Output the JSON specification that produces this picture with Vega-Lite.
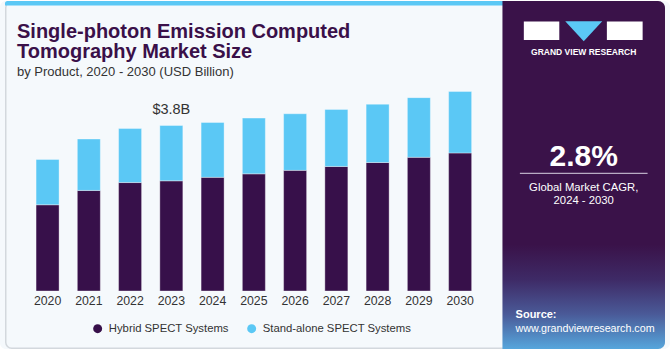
{
  "$schema": "https://vega.github.io/schema/vega-lite/v6.json",
  "width": 670,
  "height": 350,
  "autosize": {"type": "fit", "contains": "padding"},
  "padding": 0,
  "background": "#ffffff",
  "view": {"fill": "#f5f9fc", "stroke": null, "cornerRadius": 6},
  "config": {"axis": {"disable": true}, "font": "Liberation Sans"},
  "title": {
    "text": ["Single-photon Emission Computed", "Tomography Market Size"],
    "subtitle": "by Product, 2020 - 2030 (USD Billion)",
    "anchor": "start",
    "frame": "group",
    "orient": "top",
    "offset": -78,
    "dx": 17,
    "font": "Liberation Sans",
    "fontSize": 20,
    "fontWeight": "bold",
    "color": "#3a1049",
    "lineHeight": 20,
    "subtitleFont": "Liberation Sans",
    "subtitleFontSize": 13,
    "subtitleColor": "#333333",
    "subtitlePadding": 4
  },
  "datasets": {
    "market": [
      {"year": 2020, "segment": "Hybrid SPECT Systems", "value": 1.98},
      {"year": 2020, "segment": "Stand-alone SPECT Systems", "value": 1.04},
      {"year": 2021, "segment": "Hybrid SPECT Systems", "value": 2.31},
      {"year": 2021, "segment": "Stand-alone SPECT Systems", "value": 1.18},
      {"year": 2022, "segment": "Hybrid SPECT Systems", "value": 2.49},
      {"year": 2022, "segment": "Stand-alone SPECT Systems", "value": 1.24},
      {"year": 2023, "segment": "Hybrid SPECT Systems", "value": 2.53},
      {"year": 2023, "segment": "Stand-alone SPECT Systems", "value": 1.27},
      {"year": 2024, "segment": "Hybrid SPECT Systems", "value": 2.61},
      {"year": 2024, "segment": "Stand-alone SPECT Systems", "value": 1.26},
      {"year": 2025, "segment": "Hybrid SPECT Systems", "value": 2.69},
      {"year": 2025, "segment": "Stand-alone SPECT Systems", "value": 1.28},
      {"year": 2026, "segment": "Hybrid SPECT Systems", "value": 2.77},
      {"year": 2026, "segment": "Stand-alone SPECT Systems", "value": 1.30},
      {"year": 2027, "segment": "Hybrid SPECT Systems", "value": 2.86},
      {"year": 2027, "segment": "Stand-alone SPECT Systems", "value": 1.31},
      {"year": 2028, "segment": "Hybrid SPECT Systems", "value": 2.95},
      {"year": 2028, "segment": "Stand-alone SPECT Systems", "value": 1.34},
      {"year": 2029, "segment": "Hybrid SPECT Systems", "value": 3.07},
      {"year": 2029, "segment": "Stand-alone SPECT Systems", "value": 1.37},
      {"year": 2030, "segment": "Hybrid SPECT Systems", "value": 3.17},
      {"year": 2030, "segment": "Stand-alone SPECT Systems", "value": 1.41}
    ],
    "callout": [{"year": 2023, "total": 3.8, "label": "$3.8B"}],
    "years": [{"year": 2020}, {"year": 2021}, {"year": 2022}, {"year": 2023}, {"year": 2024}, {"year": 2025}, {"year": 2026}, {"year": 2027}, {"year": 2028}, {"year": 2029}, {"year": 2030}],
    "one": [{"k": 1}]
  },
  "layer": [
    {
      "data": {"name": "one"},
      "mark": {"type": "rect", "fill": null, "stroke": "#d3d8dd", "strokeWidth": 1.5, "cornerRadius": 6},
      "encoding": {
        "x": {"datum": 2018.986, "type": "quantitative", "scale": {"domain": [2018.968, 2034.966], "zero": false, "nice": false}},
        "x2": {"datum": 2034.948},
        "y": {"datum": 6.642, "type": "quantitative", "scale": {"domain": [-1.3318, 6.6591], "zero": false, "nice": false}},
        "y2": {"datum": -1.3147}
      }
    },
    {
      "data": {"name": "one"},
      "mark": {"type": "rect", "fill": "#5bc8f5", "cornerRadiusTopLeft": 5},
      "encoding": {
        "x": {"datum": 2018.968, "type": "quantitative", "scale": {"domain": [2018.968, 2034.966], "zero": false, "nice": false}},
        "x2": {"datum": 2031.1},
        "y": {"datum": 6.6591, "type": "quantitative", "scale": {"domain": [-1.3318, 6.6591], "zero": false, "nice": false}},
        "y2": {"datum": 6.5564}
      }
    },
    {
      "data": {"name": "market"},
      "mark": {"type": "bar", "width": 23, "stroke": "#ffffff", "strokeOpacity": 0.35, "strokeWidth": 1},
      "encoding": {
        "x": {"field": "year", "type": "quantitative", "scale": {"domain": [2018.968, 2034.966], "zero": false, "nice": false}},
        "y": {"field": "value", "type": "quantitative", "stack": "zero", "scale": {"domain": [-1.3318, 6.6591], "zero": false, "nice": false}},
        "color": {
          "field": "segment",
          "type": "nominal",
          "scale": {"domain": ["Hybrid SPECT Systems", "Stand-alone SPECT Systems"], "range": ["#37104a", "#5bc8f5"]},
          "legend": {
            "orient": "none",
            "legendX": 92,
            "legendY": 322,
            "direction": "horizontal",
            "columns": 2,
            "title": null,
            "symbolType": "circle",
            "symbolSize": 80,
            "symbolStrokeWidth": 0,
            "symbolOpacity": 1,
            "labelFont": "Liberation Sans",
            "labelFontSize": 11.3,
            "labelColor": "#333333",
            "labelOffset": 5.5,
            "columnPadding": 17
          }
        },
        "order": {"field": "segment", "sort": "ascending"}
      }
    },
    {
      "data": {"name": "callout"},
      "mark": {"type": "text", "font": "Liberation Sans", "fontSize": 14.5, "color": "#333333", "align": "center", "baseline": "alphabetic", "dy": -12},
      "encoding": {
        "x": {"field": "year", "type": "quantitative", "scale": {"domain": [2018.968, 2034.966], "zero": false, "nice": false}},
        "y": {"field": "total", "type": "quantitative", "scale": {"domain": [-1.3318, 6.6591], "zero": false, "nice": false}},
        "text": {"field": "label"}
      }
    },
    {
      "data": {"name": "years"},
      "mark": {"type": "text", "font": "Liberation Sans", "fontSize": 12.3, "color": "#333333", "align": "center", "baseline": "alphabetic"},
      "encoding": {
        "x": {"field": "year", "type": "quantitative", "scale": {"domain": [2018.968, 2034.966], "zero": false, "nice": false}},
        "y": {"datum": -0.3272, "type": "quantitative", "scale": {"domain": [-1.3318, 6.6591], "zero": false, "nice": false}},
        "text": {"field": "year", "type": "quantitative", "format": "d"}
      }
    },
    {
      "data": {"name": "one"},
      "mark": {"type": "rect", "cornerRadiusTopRight": 7, "cornerRadiusBottomRight": 7,
        "fill": {"gradient": "linear", "x1": 0, "y1": 0, "x2": 0, "y2": 1,
          "stops": [
            {"offset": 0, "color": "#3a1249"},
            {"offset": 0.7, "color": "#3a1249"},
            {"offset": 0.8, "color": "#3e2a66"},
            {"offset": 0.9, "color": "#4a5a98"},
            {"offset": 1, "color": "#56a6dc"}
          ]}},
      "encoding": {
        "x": {"datum": 2031.026, "type": "quantitative", "scale": {"domain": [2018.968, 2034.966], "zero": false, "nice": false}},
        "x2": {"datum": 2034.966},
        "y": {"datum": 6.6591, "type": "quantitative", "scale": {"domain": [-1.3318, 6.6591], "zero": false, "nice": false}},
        "y2": {"datum": -1.3318}
      }
    },
    {
      "data": {"name": "one"},
      "mark": {"type": "rect", "fill": "#ffffff"},
      "encoding": {
        "x": {"datum": 2031.544, "type": "quantitative", "scale": {"domain": [2018.968, 2034.966], "zero": false, "nice": false}},
        "x2": {"datum": 2032.404},
        "y": {"datum": 6.1865, "type": "quantitative", "scale": {"domain": [-1.3318, 6.6591], "zero": false, "nice": false}},
        "y2": {"datum": 5.7618}
      }
    },
    {
      "data": {"name": "one"},
      "mark": {"type": "rect", "fill": "#ffffff"},
      "encoding": {
        "x": {"datum": 2033.557, "type": "quantitative", "scale": {"domain": [2018.968, 2034.966], "zero": false, "nice": false}},
        "x2": {"datum": 2034.424},
        "y": {"datum": 6.1865, "type": "quantitative", "scale": {"domain": [-1.3318, 6.6591], "zero": false, "nice": false}},
        "y2": {"datum": 5.7618}
      }
    },
    {
      "data": {"name": "one"},
      "mark": {"type": "point", "shape": "M-1,-0.54L1,-0.54L0,0.54Z", "size": 1369, "filled": true, "fill": "#5bc8f5", "strokeWidth": 0, "opacity": 1},
      "encoding": {
        "x": {"datum": 2032.996, "type": "quantitative", "scale": {"domain": [2018.968, 2034.966], "zero": false, "nice": false}},
        "y": {"datum": 5.9662, "type": "quantitative", "scale": {"domain": [-1.3318, 6.6591], "zero": false, "nice": false}}
      }
    },
    {
      "data": {"values": [{"t": "GRAND VIEW RESEARCH"}]},
      "mark": {"type": "text", "font": "Liberation Sans", "fontSize": 8.5, "fontWeight": "bold", "letterSpacing": 0.9, "color": "#ffffff", "align": "center", "baseline": "alphabetic"},
      "encoding": {
        "x": {"datum": 2032.996, "type": "quantitative", "scale": {"domain": [2018.968, 2034.966], "zero": false, "nice": false}},
        "y": {"datum": 5.4262, "type": "quantitative", "scale": {"domain": [-1.3318, 6.6591], "zero": false, "nice": false}},
        "text": {"field": "t"}
      }
    },
    {
      "data": {"values": [{"t": "2.8%"}]},
      "mark": {"type": "text", "font": "Liberation Sans", "fontSize": 30, "fontWeight": "bold", "color": "#ffffff", "align": "center", "baseline": "alphabetic"},
      "encoding": {
        "x": {"datum": 2032.996, "type": "quantitative", "scale": {"domain": [2018.968, 2034.966], "zero": false, "nice": false}},
        "y": {"datum": 2.8691, "type": "quantitative", "scale": {"domain": [-1.3318, 6.6591], "zero": false, "nice": false}},
        "text": {"field": "t"}
      }
    },
    {
      "data": {"name": "one"},
      "mark": {"type": "rule", "color": "#d9d2e3", "strokeWidth": 1},
      "encoding": {
        "x": {"datum": 2031.449, "type": "quantitative", "scale": {"domain": [2018.968, 2034.966], "zero": false, "nice": false}},
        "x2": {"datum": 2034.544},
        "y": {"datum": 2.7024, "type": "quantitative", "scale": {"domain": [-1.3318, 6.6591], "zero": false, "nice": false}}
      }
    },
    {
      "data": {"values": [{"t": "Global Market CAGR,"}]},
      "mark": {"type": "text", "font": "Liberation Sans", "fontSize": 11.3, "color": "#ffffff", "align": "center", "baseline": "alphabetic"},
      "encoding": {
        "x": {"datum": 2032.996, "type": "quantitative", "scale": {"domain": [2018.968, 2034.966], "zero": false, "nice": false}},
        "y": {"datum": 2.3052, "type": "quantitative", "scale": {"domain": [-1.3318, 6.6591], "zero": false, "nice": false}},
        "text": {"field": "t"}
      }
    },
    {
      "data": {"values": [{"t": "2024 - 2030"}]},
      "mark": {"type": "text", "font": "Liberation Sans", "fontSize": 11.3, "color": "#ffffff", "align": "center", "baseline": "alphabetic"},
      "encoding": {
        "x": {"datum": 2032.996, "type": "quantitative", "scale": {"domain": [2018.968, 2034.966], "zero": false, "nice": false}},
        "y": {"datum": 1.9947, "type": "quantitative", "scale": {"domain": [-1.3318, 6.6591], "zero": false, "nice": false}},
        "text": {"field": "t"}
      }
    },
    {
      "data": {"values": [{"t": "Source:"}]},
      "mark": {"type": "text", "font": "Liberation Sans", "fontSize": 11, "fontWeight": "bold", "color": "#ffffff", "align": "left", "baseline": "alphabetic"},
      "encoding": {
        "x": {"datum": 2031.344, "type": "quantitative", "scale": {"domain": [2018.968, 2034.966], "zero": false, "nice": false}},
        "y": {"datum": -0.6309, "type": "quantitative", "scale": {"domain": [-1.3318, 6.6591], "zero": false, "nice": false}},
        "text": {"field": "t"}
      }
    },
    {
      "data": {"values": [{"t": "www.grandviewresearch.com"}]},
      "mark": {"type": "text", "font": "Liberation Sans", "fontSize": 10.7, "color": "#ffffff", "align": "left", "baseline": "alphabetic"},
      "encoding": {
        "x": {"datum": 2031.344, "type": "quantitative", "scale": {"domain": [2018.968, 2034.966], "zero": false, "nice": false}},
        "y": {"datum": -0.9368, "type": "quantitative", "scale": {"domain": [-1.3318, 6.6591], "zero": false, "nice": false}},
        "text": {"field": "t"}
      }
    }
  ]
}
